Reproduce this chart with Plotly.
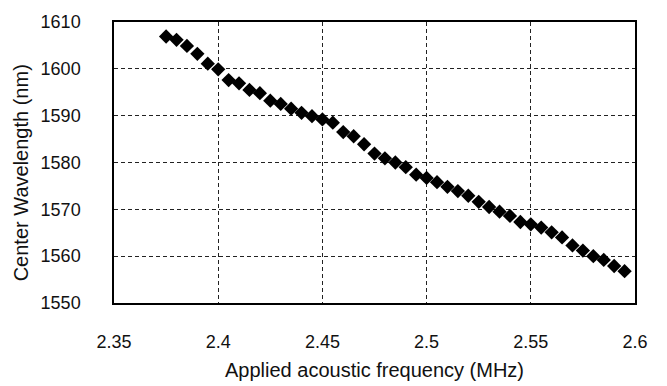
import plotly.graph_objects as go

freq_mhz = [2.375, 2.380, 2.385, 2.390, 2.395, 2.400, 2.405, 2.410, 2.415, 2.420,
            2.425, 2.430, 2.435, 2.440, 2.445, 2.450, 2.455, 2.460, 2.465, 2.470,
            2.475, 2.480, 2.485, 2.490, 2.495, 2.500, 2.505, 2.510, 2.515, 2.520,
            2.525, 2.530, 2.535, 2.540, 2.545, 2.550, 2.555, 2.560, 2.565, 2.570,
            2.575, 2.580, 2.585, 2.590, 2.595]
wavelength_nm = [1606.9, 1606.2, 1604.9, 1603.2, 1601.1, 1599.9, 1597.6, 1596.9, 1595.5, 1594.8,
                 1593.2, 1592.5, 1591.5, 1590.6, 1589.9, 1589.2, 1588.5, 1586.5, 1585.6, 1583.9,
                 1581.9, 1580.9, 1580.0, 1579.0, 1577.4, 1576.7, 1575.8, 1574.8, 1573.9, 1572.9,
                 1571.6, 1570.5, 1569.5, 1568.6, 1567.3, 1566.8, 1566.1, 1565.1, 1564.0, 1562.3,
                 1561.2, 1560.0, 1559.2, 1557.9, 1556.8]

x_ticks = [2.35, 2.4, 2.45, 2.5, 2.55, 2.6]
x_tick_text = ["2.35", "2.4", "2.45", "2.5", "2.55", "2.6"]
y_ticks = [1550, 1560, 1570, 1580, 1590, 1600, 1610]
x_title = "Applied acoustic frequency (MHz)"
y_title = "Center Wavelength (nm)"

fig = go.Figure(go.Scatter(
    x=freq_mhz, y=wavelength_nm, mode="markers",
    marker=dict(symbol="diamond", size=11, color="black", line=dict(width=0)),
    showlegend=False,
))

font = dict(family="Liberation Sans, Arial, sans-serif", size=18, color="#111")

fig.update_layout(
    width=667, height=386,
    margin=dict(l=114, r=32, t=17, b=83),
    paper_bgcolor="white", plot_bgcolor="white",
    font=font,
    annotations=[
        dict(text=x_title, xref="paper", yref="paper", x=0.5, y=-0.238,
             xanchor="center", yanchor="middle", showarrow=False,
             font=dict(size=20)),
        dict(text=y_title, xref="paper", yref="paper", x=-0.1785, y=0.4615,
             xanchor="center", yanchor="middle", showarrow=False, textangle=-90,
             font=dict(size=20)),
    ],
)
fig.update_xaxes(
    range=[2.35, 2.6], tickvals=x_ticks, ticktext=x_tick_text,
    showgrid=True, gridcolor="#222", griddash="4px,3px", gridwidth=1,
    showline=True, linecolor="black", linewidth=1.5, mirror=True,
    ticks="", ticklabelstandoff=22, zeroline=False,
)
fig.update_yaxes(
    range=[1550, 1610], tickvals=y_ticks,
    showgrid=True, gridcolor="#222", griddash="4px,3px", gridwidth=1,
    showline=True, linecolor="black", linewidth=1.5, mirror=True,
    ticks="", ticklabelstandoff=28, zeroline=False,
)

fig.write_html("out.html",
               config={"displayModeBar": False},
               post_script="document.body.style.margin='0';document.body.style.overflow='hidden';")
